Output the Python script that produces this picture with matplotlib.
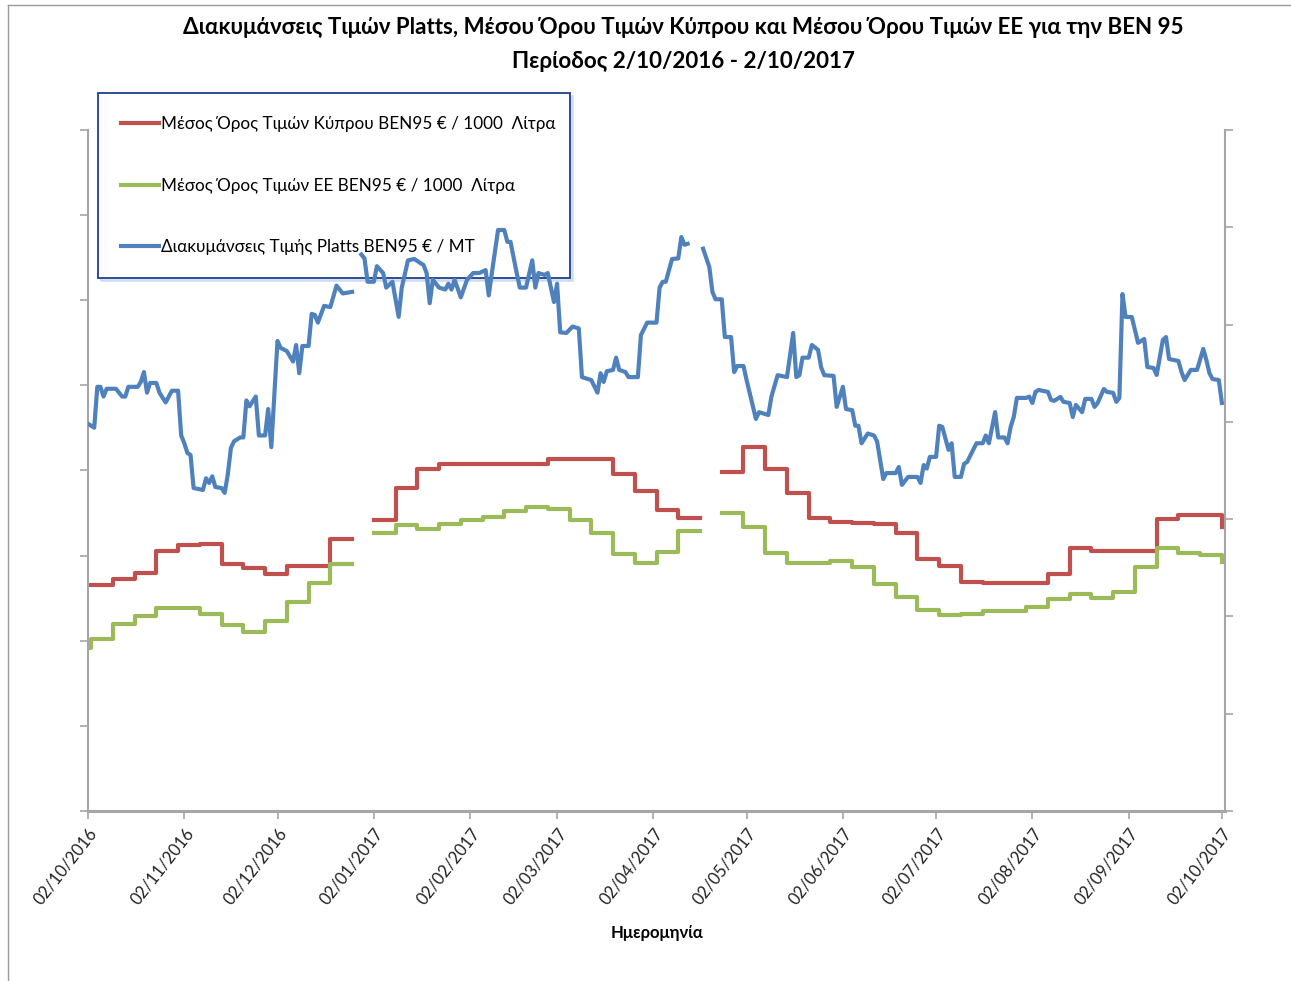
import numpy as np
import pandas as pd
import matplotlib
matplotlib.use('Agg')
import matplotlib.pyplot as plt
import matplotlib.dates as mdates
from matplotlib.lines import Line2D

plt.rcParams['font.family'] = ['Lato', 'DejaVu Sans']

nan = np.nan

# weekly prices (value holds from the given Monday), €/1000 L
week_dates = [pd.Timestamp('2016-10-02')] + list(pd.date_range('2016-10-03', '2017-10-02', freq='7D'))
cyprus = [533, 533, 536, 540, 553, 556, 557, 545, 543, 539, 544, 544, 560, nan,
          571, 590, 601, 604, 604, 604, 604, 604, 607, 607, 607, 598, 588, 577, 572, nan,
          599, 614, 601, 587, 572, 570, 569, 568.5, 563, 548, 544, 534.5, 534, 534, 534,
          539, 554.5, 553, 553, 553, 571.5, 574, 574, 567]
eu = [496, 501, 510, 514.5, 519, 519, 516, 509, 505, 511.5, 523, 534, 545, nan,
      563, 568, 565.5, 568.5, 571, 572.5, 576, 578.5, 577.5, 571, 563, 551, 545.5, 552, 564.5, nan,
      575, 567, 551.5, 545.5, 545.5, 547, 543.5, 533.5, 525.5, 518, 515, 515.5, 517.5, 517.5,
      520, 524.5, 527.5, 525, 528.5, 543.5, 554.5, 551.5, 550.5, 546.5]

# daily Platts quotes, €/MT (day offsets from 2/10/2016)
platts_days = [0, 2, 3, 4, 5, 6, 9, 11, 12, 13,
               16, 17, 18, 19, 20, 22, 23, 25, 27, 29,
               30, 31, 32, 33, 34, 37, 38, 39, 40, 41,
               43, 44, 45, 46, 47, 49, 50, 51, 52, 54,
               55, 57, 58, 59, 61, 62, 64, 66, 67, 68,
               69, 71, 72, 73, 74, 76, 78, 80, 82, 85,
               86, 88, 89, 90, 92, 93, 95, 96, 98, 100,
               101, 103, 105, 108, 109, 110, 111, 113, 115, 116,
               117, 118, 120, 122, 124, 126, 128, 129, 130, 132,
               134, 135, 136, 138, 139, 141, 143, 144, 145, 147,
               148, 150, 151, 152, 154, 156, 158, 159, 162, 164,
               165, 166, 167, 169, 170, 171, 173, 174, 177, 178,
               180, 183, 184, 185, 186, 188, 190, 191, 192, 193,
               195, 198, 200, 201, 202, 204, 205, 207, 208, 209,
               211, 212, 215, 216, 219, 220, 222, 225, 227, 228,
               229, 230, 232, 233, 235, 236, 237, 240, 241, 243,
               244, 246, 247, 248, 249, 251, 253, 254, 256, 257,
               260, 261, 262, 264, 267, 268, 269, 270, 271, 273,
               274, 275, 277, 278, 279, 281, 282, 283, 286, 288,
               289, 290, 292, 293, 295, 296, 297, 298, 299, 302,
               303, 304, 305, 306, 309, 310, 311, 313, 314, 316,
               317, 318, 320, 321, 323, 324, 325, 327, 328, 330,
               331, 332, 333, 334, 336, 338, 340, 341, 343, 344,
               346, 347, 348, 351, 352, 353, 355, 357, 359, 360,
               361, 362, 364, 365]
platts_vals = [449, 447, 468, 468, 463, 467, 467, 463, 463, 468,
               468, 470.5, 475.6, 465, 470, 470, 465, 460, 466, 466,
               443, 439, 434, 433, 416, 415, 421, 418.6, 422, 416.5,
               416, 413.5, 423, 436.6, 440, 442, 442, 461, 458, 463,
               443, 443, 456.6, 437, 491.6, 488, 486.4, 481, 489.5, 475,
               489, 489, 505.5, 505, 501, 509.6, 509, 520, 516, 516.8,
               nan, 536, 534, 522, 522, 530, 526.5, 519, 522, 504,
               519, 533, 533.7, 530.6, 526.5, 511, 523, 519, 518, 521,
               518, 523, 514, 523, 526.5, 526.5, 528, 515, 526.5, 548.6,
               548.6, 542.5, 542.5, 526.5, 519, 519, 533, 519, 526.5, 525.5,
               526.5, 511.6, 521, 496, 495.7, 499, 498, 473, 471.5, 465,
               475, 470.5, 476, 476.7, 483, 476.7, 475.6, 473, 473, 494.7,
               501, 501, 519, 522, 522, 533.7, 534, 545, 541, 541.5,
               nan, 539, 529.6, 516.8, 513, 513, 493.6, 493.6, 475.6, 478.7,
               478.7, 471.5, 451.5, 455, 453.5, 463, 474, 473, 495.7, 473,
               474, 483, 483, 489.5, 487, 478, 474, 473.6, 457.7, 468,
               456.6, 456, 448, 448, 439, 444, 443, 440, 420.6, 423.7,
               423.7, 426.8, 417.6, 421.7, 421.7, 418.6, 427.8, 426, 432, 432,
               448, 447.4, 435.6, 439, 421.7, 421.7, 428.4, 429.4, 439, 439,
               443, 439, 455, 442, 442, 439, 447.4, 452.5, 462.3, 462.3,
               463, 459.7, 465.4, 466.4, 465.4, 461.3, 460.8, 462.8, 460.3, 459.7,
               452.5, 458.7, 455, 461.8, 461.8, 457.7, 459.7, 466.9, 465.4, 464.9,
               460.3, 462.3, 515.7, 503.9, 503.9, 490.6, 492.6, 478.2, 477.7, 474.1,
               492.1, 493.6, 482.3, 481.3, 475.6, 471.5, 476.7, 476.7, 487.5, 481.8,
               475, 472, 471.5, 459.7]

labels = ['Μέσος Όρος Τιμών Κύπρου BEN95 € / 1000  Λίτρα',
          'Μέσος Όρος Τιμών ΕΕ BEN95 € / 1000  Λίτρα',
          'Διακυμάνσεις Τιμής Platts BEN95 € / MT']

start = pd.Timestamp('2016-10-02')
platts_dates = start + pd.to_timedelta(platts_days, unit='D')

fig = plt.figure(figsize=(12.91, 9.81), dpi=100)
ax = fig.add_axes([88 / 1291, 1 - 811 / 981, (1225 - 88) / 1291, (811 - 130) / 981])
ax2 = ax.twinx()

axis_grey = '#a6a6a6'

l1, = ax.plot(week_dates, cyprus, drawstyle='steps-post', color='#c0504d', lw=3,
              solid_joinstyle='round', label=labels[0])
l2, = ax.plot(week_dates, eu, drawstyle='steps-post', color='#9bbb59', lw=3,
              solid_joinstyle='round', label=labels[1])
l3, = ax2.plot(platts_dates, platts_vals, color='#4f81bd', lw=3,
               solid_joinstyle='round', label=labels[2])

ax.set_ylim(400, 800)
ax.set_yticks(np.arange(400, 801, 50))
ax2.set_ylim(250, 600)
ax2.set_yticks(np.arange(250, 601, 50))
ax.set_xlim(start, pd.Timestamp('2017-10-03'))

ax.xaxis.set_major_locator(mdates.MonthLocator(bymonthday=2))
ax.xaxis.set_major_formatter(mdates.DateFormatter('%d/%m/%Y'))
for lab in ax.get_xticklabels():
    lab.set_rotation(52)
    lab.set_ha('right')
    lab.set_va('top')
    lab.set_rotation_mode('anchor')
    lab.set_fontsize(12)
    lab.set_color('#222222')

ax.tick_params(axis='y', labelleft=False, length=6, width=1.2, color=axis_grey)
ax2.tick_params(axis='y', labelright=False, length=6, width=1.2, color=axis_grey)
ax.tick_params(axis='x', length=6, width=1.2, color=axis_grey, pad=4)

for a in (ax, ax2):
    a.spines['top'].set_visible(False)
    for s in a.spines.values():
        s.set_color(axis_grey)
        s.set_linewidth(1.5)
ax.spines['right'].set_visible(False)
ax2.spines['left'].set_visible(False)
ax2.spines['bottom'].set_visible(False)
ax.spines['bottom'].set_linewidth(2.2)

leg = ax.legend(handles=[l1, l2, l3], loc='upper left',
                bbox_to_anchor=(98 / 1291, 1 - 275 / 981, (570 - 98) / 1291, (275 - 93) / 981),
                bbox_transform=fig.transFigure, mode='expand', borderaxespad=0,
                fontsize=12.3, labelspacing=2.65, borderpad=1.37, handlelength=2.2,
                handletextpad=0.1, fancybox=False, framealpha=1,
                edgecolor='#1f3f8f', shadow={'color': '#c6d6ee', 'alpha': 0.7})
leg.get_frame().set_linewidth(1.3)
leg.set_zorder(1)

fig.text(0.529, 1 - 27 / 981,
         'Διακυμάνσεις Τιμών Platts, Μέσου Όρου Τιμών Κύπρου και Μέσου Όρου Τιμών ΕΕ για την BEN 95',
         ha='center', va='center', fontsize=16.1, fontweight='bold')
fig.text(0.529, 1 - 62 / 981, 'Περίοδος 2/10/2016 - 2/10/2017',
         ha='center', va='center', fontsize=16.1, fontweight='bold')
fig.text(657 / 1291, 1 - 933 / 981, 'Ημερομηνία', ha='center', va='center',
         fontsize=12, fontweight='bold')

# outer frame of the original picture
fig.add_artist(Line2D([8 / 1291, 8 / 1291], [0, 1 - 5 / 981], transform=fig.transFigure,
                      color='#9a9a9a', lw=1))
fig.add_artist(Line2D([8 / 1291, 1], [1 - 5 / 981, 1 - 5 / 981], transform=fig.transFigure,
                      color='#9a9a9a', lw=1))

fig.savefig('out.png', dpi=100)
